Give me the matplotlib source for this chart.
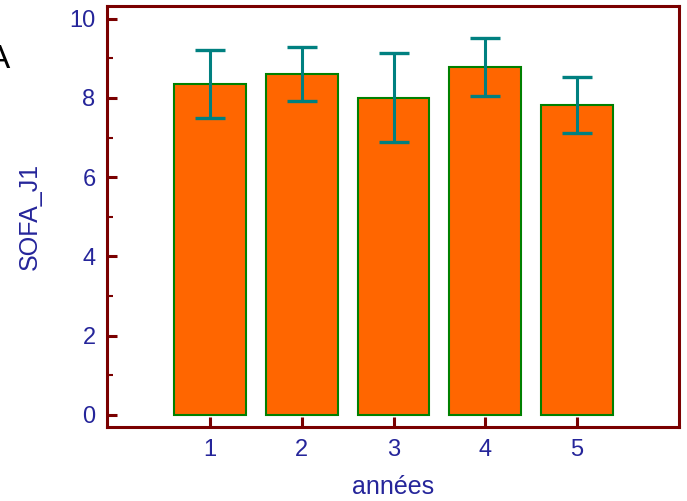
import matplotlib
matplotlib.use("Agg")
import matplotlib.pyplot as plt
from matplotlib.ticker import MultipleLocator

years = [1, 2, 3, 4, 5]
means = [8.36, 8.60, 8.01, 8.78, 7.82]
errors = [0.86, 0.68, 1.12, 0.72, 0.71]
xlabel = "années"
ylabel = "SOFA_J1"

plt.rcParams['font.family'] = ['Liberation Sans', 'DejaVu Sans']

fig = plt.figure(figsize=(6.87, 5.01), dpi=100)
ax = fig.add_axes([0.1553, 0.1483, 0.988 - 0.1553, 0.988 - 0.1483])

spine_col = '#7a0000'
lab_col = '#25259a'

ax.bar(years, means, width=0.78, color='#ff6600', edgecolor='#008000', linewidth=1.5, zorder=2)
ax.errorbar(years, means, yerr=errors, fmt='none', ecolor='#008080', elinewidth=2.2,
            capsize=11, capthick=2.4, zorder=3)

ax.set_xlim(-0.127, 6.11)
ax.set_ylim(-0.3, 10.32)
ax.set_xticks(years)
ax.yaxis.set_major_locator(MultipleLocator(2))
ax.yaxis.set_minor_locator(MultipleLocator(1))

for s in ax.spines.values():
    s.set_color(spine_col)
    s.set_linewidth(2.2)

ax.tick_params(axis='both', which='major', direction='in', color=spine_col, width=2.2,
               labelcolor=lab_col, labelsize=17)
ax.tick_params(axis='y', which='major', length=7, pad=8)
ax.tick_params(axis='y', which='minor', direction='in', color=spine_col, width=1.5, length=4)
ax.tick_params(axis='x', which='major', length=7, pad=9)
ax.tick_params(top=False, right=False)

ax.set_xlabel(xlabel, color=lab_col, fontsize=18, labelpad=10)
ax.set_ylabel(ylabel, color=lab_col, fontsize=18, labelpad=20)

fig.text(-0.018, 0.882, "A", fontsize=24, color='black', ha='left', va='center')

fig.savefig("out.png", dpi=100)
